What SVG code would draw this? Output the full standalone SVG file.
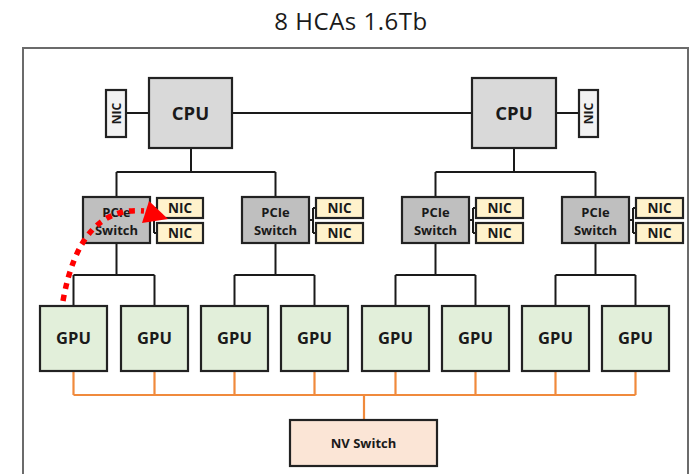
<svg xmlns="http://www.w3.org/2000/svg" width="697" height="474" viewBox="0 0 697 474">
<style>
text{font-family:"Open Sans","Liberation Sans",sans-serif;fill:#1a1a1a;text-anchor:middle;font-weight:bold}
.title{font-weight:normal;font-size:24px;letter-spacing:0.5px}
.box{stroke:#222;stroke-width:2.2}
.cpu{fill:#d9d9d9}
.sw{fill:#bfbfbf}
.nic{fill:#fff2cc}
.nicv{fill:#f2f2f2}
.gpu{fill:#e2efda}
.nv{fill:#fbe5d6}
.ln{fill:none;stroke:#1a1a1a;stroke-width:2}
.or{fill:none;stroke:#f08a3c;stroke-width:2.2}
</style>
<rect width="697" height="474" fill="#fff"/>
<text class="title" x="351" y="30">8 HCAs 1.6Tb</text>
<rect x="23" y="48" width="665" height="440" fill="none" stroke="#6b6b6b" stroke-width="2"/>

<g id="connectors">
<path class="ln" d="M126,113H149M232,113H472M556,113H579"/>
<path class="ln" d="M191,148V172M116.5,172H275.5M116.5,172V197M275.5,172V197"/>
<path class="ln" d="M514,148V172M435.5,172H595.5M435.5,172V197M595.5,172V197"/>
<path class="ln" d="M150,220H154M154,208V233M154,208H157M154,233H157"/>
<path class="ln" d="M309,220H313M313,208V233M313,208H316M313,233H316"/>
<path class="ln" d="M469,220H473M473,208V233M473,208H476M473,233H476"/>
<path class="ln" d="M629,220H633M633,208V233M633,208H636M633,233H636"/>
<path class="ln" d="M116.5,243V275M73.5,275H154.5M73.5,275V306M154.5,275V306"/>
<path class="ln" d="M275.5,243V275M234.5,275H314.5M234.5,275V306M314.5,275V306"/>
<path class="ln" d="M435.5,243V275M395.5,275H475.5M395.5,275V306M475.5,275V306"/>
<path class="ln" d="M595.5,243V275M555.5,275H635.5M555.5,275V306M635.5,275V306"/>
<path class="or" d="M73.5,371V395M154.5,371V395M234.5,371V395M314.5,371V395M395.5,371V395M475.5,371V395M555.5,371V395M635.5,371V395M73.5,395H635.5M364,395V420"/>
</g>

<g id="nic-l"><rect class="box nicv" x="106" y="90" width="20" height="47"/><text font-size="12" transform="translate(120.5,113.5) rotate(-90)">NIC</text></g>
<g id="cpu-l"><rect class="box cpu" x="149" y="78" width="83" height="70"/><text font-size="18.5" x="190.5" y="120">CPU</text></g>
<g id="cpu-r"><rect class="box cpu" x="472" y="78" width="84" height="70"/><text font-size="18.5" x="514" y="120">CPU</text></g>
<g id="nic-r"><rect class="box nicv" x="579" y="90" width="19" height="47"/><text font-size="12" transform="translate(592.5,113.5) rotate(-90)">NIC</text></g>

<g id="sw1"><rect class="box sw" x="83" y="197" width="67" height="46"/><text font-size="13" x="116.5" y="217">PCIe</text><text font-size="13" x="116.5" y="235">Switch</text></g>
<g id="nic1a"><rect class="box nic" x="157" y="198" width="46" height="20"/><text font-size="13.5" x="180" y="213">NIC</text></g>
<g id="nic1b"><rect class="box nic" x="157" y="223" width="46" height="20"/><text font-size="13.5" x="180" y="238">NIC</text></g>
<g id="sw2"><rect class="box sw" x="242" y="197" width="67" height="46"/><text font-size="13" x="275.5" y="217">PCIe</text><text font-size="13" x="275.5" y="235">Switch</text></g>
<g id="nic2a"><rect class="box nic" x="316" y="198" width="47" height="20"/><text font-size="13.5" x="339.5" y="213">NIC</text></g>
<g id="nic2b"><rect class="box nic" x="316" y="223" width="47" height="20"/><text font-size="13.5" x="339.5" y="238">NIC</text></g>
<g id="sw3"><rect class="box sw" x="402" y="197" width="67" height="46"/><text font-size="13" x="435.5" y="217">PCIe</text><text font-size="13" x="435.5" y="235">Switch</text></g>
<g id="nic3a"><rect class="box nic" x="476" y="198" width="47" height="20"/><text font-size="13.5" x="499.5" y="213">NIC</text></g>
<g id="nic3b"><rect class="box nic" x="476" y="223" width="47" height="20"/><text font-size="13.5" x="499.5" y="238">NIC</text></g>
<g id="sw4"><rect class="box sw" x="562" y="197" width="67" height="46"/><text font-size="13" x="595.5" y="217">PCIe</text><text font-size="13" x="595.5" y="235">Switch</text></g>
<g id="nic4a"><rect class="box nic" x="636" y="198" width="47" height="20"/><text font-size="13.5" x="659.5" y="213">NIC</text></g>
<g id="nic4b"><rect class="box nic" x="636" y="223" width="47" height="20"/><text font-size="13.5" x="659.5" y="238">NIC</text></g>

<g id="gpu1"><rect class="box gpu" x="40" y="306" width="67" height="65"/><text font-size="16.5" x="73.5" y="344">GPU</text></g>
<g id="gpu2"><rect class="box gpu" x="121" y="306" width="67" height="65"/><text font-size="16.5" x="154.5" y="344">GPU</text></g>
<g id="gpu3"><rect class="box gpu" x="201" y="306" width="67" height="65"/><text font-size="16.5" x="234.5" y="344">GPU</text></g>
<g id="gpu4"><rect class="box gpu" x="281" y="306" width="67" height="65"/><text font-size="16.5" x="314.5" y="344">GPU</text></g>
<g id="gpu5"><rect class="box gpu" x="362" y="306" width="67" height="65"/><text font-size="16.5" x="395.5" y="344">GPU</text></g>
<g id="gpu6"><rect class="box gpu" x="442" y="306" width="67" height="65"/><text font-size="16.5" x="475.5" y="344">GPU</text></g>
<g id="gpu7"><rect class="box gpu" x="522" y="306" width="67" height="65"/><text font-size="16.5" x="555.5" y="344">GPU</text></g>
<g id="gpu8"><rect class="box gpu" x="602" y="306" width="67" height="65"/><text font-size="16.5" x="635.5" y="344">GPU</text></g>

<g id="nvswitch"><rect class="box nv" x="290" y="420" width="147" height="46"/><text font-size="13" x="363.5" y="448">NV Switch</text></g>

<g id="path-arrow">
<path d="M63,301 Q80,205 144,211" fill="none" stroke="#ff0000" stroke-width="5.5" stroke-dasharray="6 6"/>
<polygon points="149,201 142,223 168,219" fill="#ff0000"/>
</g>
</svg>
